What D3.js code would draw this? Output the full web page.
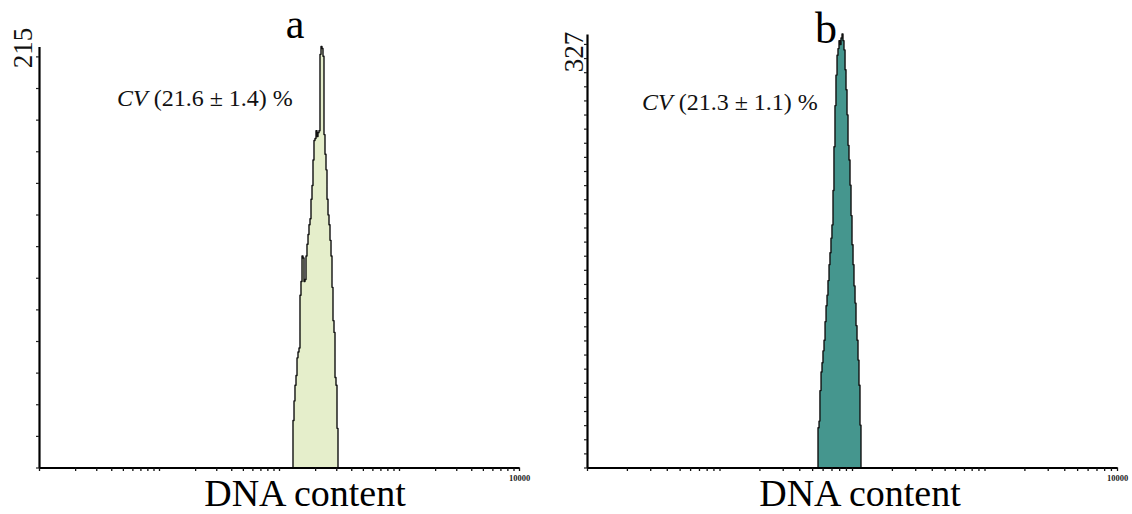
<!DOCTYPE html>
<html><head><meta charset="utf-8">
<script src="https://cdn.jsdelivr.net/npm/d3@7"></script>
<style>body{margin:0;background:#fff}svg{display:block}</style>
</head><body>
<svg id="chart" width="1132" height="514"></svg>
<script>
// ---------- data ----------
const panelLetters = ["a", "b"];
const yMaxValues = [215, 327];
const cvMeans = ["21.6", "21.3"];
const cvSds = ["1.4", "1.1"];
const xDomain = [1, 10000];
const xEndLabel = "10000";
const xTitle = "DNA content";

// panel a: bin edges (DNA content, log scale) and counts
const dnaA = [130.8,133.4,135.9,138.6,141.3,144.0,146.8,149.6,152.5,155.5,158.5,161.6,164.7,167.9,171.1,174.5,177.8,181.3,184.8,188.4,192.0,195.7,199.5,203.4,207.3,211.3,215.4,219.6,223.9,228.2,232.6,237.1,241.7,246.4,251.2,256.1,261.0,266.1,271.3,276.5,281.8,287.3,292.9,298.5,304.3,310.2];
const countA = [24,34,42,47,56,59,61,88,95,108,107,95,96,108,114,119,124,127,137,144,157,167,168,172,169,171,172,211,215,214,210,170,160,152,137,129,124,116,108,92,75,69,46,42,20];

// panel b
const dnaB = [55.4,56.4,57.3,58.4,59.4,60.4,61.5,62.6,63.7,64.8,65.9,67.1,68.2,69.4,70.6,71.9,73.1,74.4,75.7,77.1,78.4,79.8,81.2,82.6,84.1,85.5,87.0,88.6,90.1,91.7,93.3,94.9,96.6,98.3,100.0,101.8,103.5,105.4,107.2,109.1,111.0,112.9,114.9,116.9];
const countB = [30,35,58,72,79,88,96,110,122,130,141,153,162,173,183,209,242,273,296,311,316,322,319,324,327,322,315,300,285,266,243,232,213,190,168,153,137,124,107,96,81,62,32];

// ---------- layout ----------
const svg = d3.select("#chart");
const font = "'Liberation Serif','Times New Roman',serif";
const layouts = [
  {x0: 39, x1: 519, yTop: 46.5, yBot: 467.5, fill: "#e5eecb", tickStep: 16.15,
   maxX: 32, maxY: 48, letterX: 295, letterY: 38, letterSize: 42, cvX: 117, cvY: 106, titleX: 305},
  {x0: 587, x1: 1117, yTop: 34, yBot: 467.5, fill: "#45968e", tickStep: 10.65,
   maxX: 583, maxY: 52, letterX: 826, letterY: 43, letterSize: 44, cvX: 642, cvY: 110, titleX: 860}
];
const dnas = [dnaA, dnaB];
const counts = [countA, countB];

const minorTicks = [];
for (let d = 0; d < 4; d++) for (let k = 1; k < 10; k++) minorTicks.push(k * Math.pow(10, d));
minorTicks.push(10000);

layouts.forEach((L, p) => {
  const g = svg.append("g");
  const x = d3.scaleLog().domain(xDomain).range([L.x0, L.x1]);
  const y = d3.scaleLinear().domain([0, yMaxValues[p]]).range([L.yBot, L.yTop]);

  const dna = dnas[p], cnt = counts[p];
  const pts = [{x: dna[0], c: 0}].concat(dna.map((d, i) => ({x: d, c: i < cnt.length ? cnt[i] : 0})));

  const area = d3.area().curve(d3.curveStepAfter).x(d => x(d.x)).y0(y(0)).y1(d => y(d.c));
  const line = d3.line().curve(d3.curveStepAfter).x(d => x(d.x)).y(d => y(d.c));
  g.append("path").attr("d", area(pts)).attr("fill", L.fill).attr("stroke", "none");
  g.append("path").attr("d", line(pts)).attr("fill", "none").attr("stroke", "#111")
    .attr("stroke-width", 1.4).attr("stroke-linejoin", "round");

  // y axis
  const yTicks = d3.range(0, yMaxValues[p] + 0.001, L.tickStep);
  const ya = g.append("g").attr("transform", `translate(${L.x0},0)`)
    .call(d3.axisLeft(y).tickValues(yTicks).tickSize(3).tickSizeOuter(0).tickFormat(""));
  ya.select(".domain").attr("stroke", "#000").attr("stroke-width", 2.2);
  ya.selectAll(".tick line").attr("stroke", "#222").attr("stroke-width", 1.2);

  // x axis
  const xa = g.append("g").attr("transform", `translate(0,${L.yBot})`)
    .call(d3.axisBottom(x).tickValues(minorTicks).tickSize(3.5).tickSizeOuter(0).tickPadding(3.5)
      .tickFormat(d => d === 10000 ? xEndLabel : ""));
  xa.select(".domain").attr("stroke", "#000").attr("stroke-width", 2.2);
  xa.selectAll(".tick line").attr("stroke", "#111").attr("stroke-width", 1.3);
  xa.selectAll(".tick text").attr("font-family", font).attr("font-size", 8.5)
    .attr("font-weight", "bold").attr("fill", "#222");

  // y max label
  g.append("text").attr("transform", `translate(${L.maxX},${L.maxY}) rotate(-90)`)
    .attr("text-anchor", "middle").attr("font-family", font).attr("font-size", 27)
    .attr("fill", "#111").text(yMaxValues[p]);

  // panel letter
  g.append("text").attr("x", L.letterX).attr("y", L.letterY).attr("text-anchor", "middle")
    .attr("font-family", font).attr("font-size", L.letterSize).attr("fill", "#000").text(panelLetters[p]);

  // CV label
  const cv = g.append("text").attr("x", L.cvX).attr("y", L.cvY)
    .attr("font-family", font).attr("font-size", 24).attr("fill", "#111");
  cv.append("tspan").attr("font-style", "italic").text("CV");
  cv.append("tspan").text(` (${cvMeans[p]} ± ${cvSds[p]}) %`);

  // x title
  g.append("text").attr("x", L.titleX).attr("y", 505.5).attr("text-anchor", "middle")
    .attr("font-family", font).attr("font-size", 38).attr("fill", "#000").text(xTitle);
});
</script>
</body></html>
